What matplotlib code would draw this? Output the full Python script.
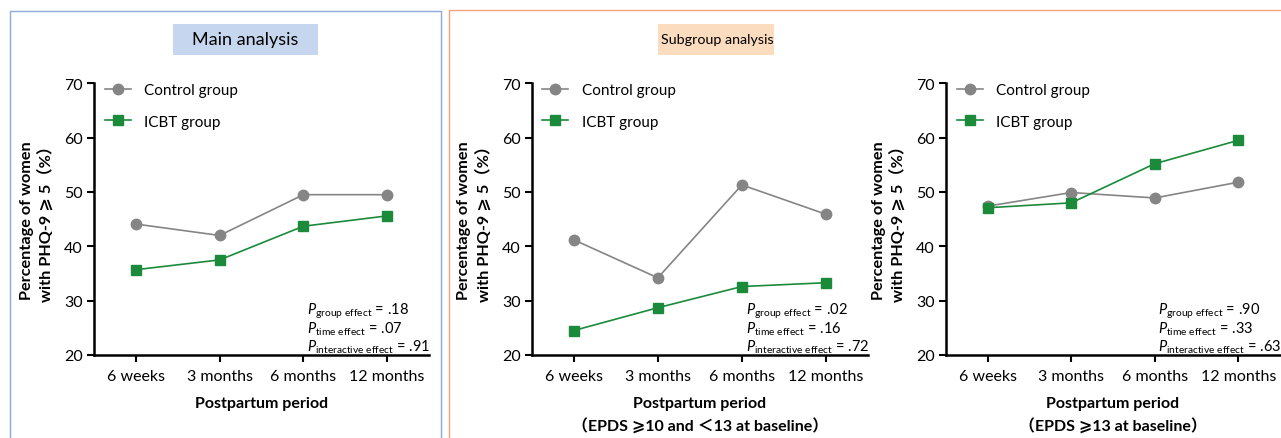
import matplotlib
matplotlib.use("Agg")
import matplotlib.pyplot as plt
from matplotlib.patches import Rectangle

plt.rcParams["font.family"] = ["Lato", "Noto Sans CJK SC", "DejaVu Sans"]
plt.rcParams["mathtext.fontset"] = "custom"
plt.rcParams["mathtext.rm"] = "Lato"
plt.rcParams["mathtext.it"] = "Lato:italic"

# data
periods = ["6 weeks", "3 months", "6 months", "12 months"]

main_control = [44.1, 42.0, 49.5, 49.5]
main_icbt = [35.7, 37.5, 43.7, 45.6]

mid_control = [41.2, 34.2, 51.3, 45.9]
mid_icbt = [24.5, 28.7, 32.6, 33.3]

high_control = [47.4, 49.9, 48.9, 51.8]
high_icbt = [47.1, 48.0, 55.2, 59.5]

p_values = [
    [".18", ".07", ".91"],
    [".02", ".16", ".72"],
    [".90", ".33", ".63"],
]
xlabel_extra = ["", "（EPDS ⩾10 and ＜13 at baseline）", "（EPDS ⩾13 at baseline）"]

GREY = "#858585"
GREEN = "#1b8a3b"

W, H = 1281, 439
fig = plt.figure(figsize=(W / 100, H / 100), dpi=100)

# outer frames
fig.add_artist(Rectangle((10 / W, -0.05), 431 / W, 1.05 - 12 / H, transform=fig.transFigure,
                         fill=False, edgecolor="#8eaadb", linewidth=1.0))
fig.add_artist(Rectangle((449 / W, -0.05), 0.7, 1.05 - 11 / H, transform=fig.transFigure,
                         fill=False, edgecolor="#f1a27f", linewidth=1.0))

# header boxes
fig.add_artist(Rectangle((173 / W, 1 - 56 / H), 145 / W, 31 / H, transform=fig.transFigure,
                         facecolor="#c7d6ef", edgecolor="none"))
fig.text(245.5 / W, 1 - 40.5 / H, "Main analysis", ha="center", va="center", fontsize=13)
fig.add_artist(Rectangle((658 / W, 1 - 56 / H), 116 / W, 31 / H, transform=fig.transFigure,
                         facecolor="#fcdcbe", edgecolor="none"))
fig.text(717 / W, 1 - 40.5 / H, "Subgroup analysis", ha="center", va="center", fontsize=10.3)

lefts = [94, 531.7, 946]
widths = [335, 336.3, 334]
series = [(main_control, main_icbt), (mid_control, mid_icbt), (high_control, high_icbt)]

bottom = 1 - 356 / H
height = (356 - 84.3) / H
x = list(range(len(periods)))

for i in range(3):
    ax = fig.add_axes([lefts[i] / W, bottom, widths[i] / W, height])
    ctrl, icbt = series[i]
    ax.plot(x, ctrl, color=GREY, marker="o", markersize=7.5, linewidth=1.2, label="Control group",
            clip_on=False)
    ax.plot(x, icbt, color=GREEN, marker="s", markersize=7.5, linewidth=1.2, label="ICBT group",
            clip_on=False)

    ax.set_xlim(-0.5, 3.5)
    ax.set_ylim(20, 70)
    ax.set_yticks([20, 30, 40, 50, 60, 70])
    ax.set_xticks(x)
    ax.set_xticklabels(periods)
    for s in ["top", "right"]:
        ax.spines[s].set_visible(False)
    for s in ["left", "bottom"]:
        ax.spines[s].set_linewidth(1.8)
    ax.tick_params(axis="both", length=5, width=1.5, labelsize=11.5, pad=3, color="black")
    ax.tick_params(axis="x", pad=5)

    ax.text(-0.169, 0.5, "Percentage of women\nwith PHQ-9 ⩾ 5（%）", transform=ax.transAxes,
            rotation=90, ha="center", va="center", fontsize=11.7, fontweight="bold", linespacing=1.35)
    ax.text(0.5, -0.177, "Postpartum period", transform=ax.transAxes, ha="center", va="center",
            fontsize=11.5, fontweight="bold")
    if xlabel_extra[i]:
        ax.text(0.5, -0.258, xlabel_extra[i], transform=ax.transAxes, ha="center", va="center",
                fontsize=11.5, fontweight="bold")

    pv = p_values[i]
    labels = [r"$\mathit{P}_{\mathrm{group\ effect}}$ = " + pv[0],
              r"$\mathit{P}_{\mathrm{time\ effect}}$ = " + pv[1],
              r"$\mathit{P}_{\mathrm{interactive\ effect}}$ = " + pv[2]]
    for lab, yy in zip(labels, [0.166, 0.099, 0.033]):
        ax.text(0.636, yy, lab, transform=ax.transAxes, ha="left", va="center", fontsize=10.5)

    ax.legend(loc="upper left", bbox_to_anchor=(0.0, 1.04), frameon=False, fontsize=11,
              handlelength=1.7, handletextpad=0.9, labelspacing=1.15, borderaxespad=0.3)

fig.savefig("out.png", dpi=100)
